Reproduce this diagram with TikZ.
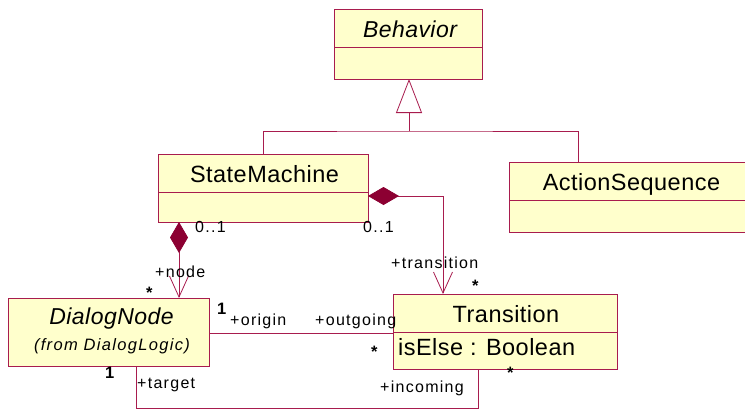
\documentclass[tikz,border=0pt]{standalone}
\usepackage{fontspec}
\setmainfont{Liberation Sans}
\newfontfamily\lblfont[LetterSpace=8]{Liberation Sans}
\newfontfamily\namefont[LetterSpace=2]{Liberation Sans}
\usetikzlibrary{arrows.meta}
\definecolor{umlline}{RGB}{168,28,78}
\definecolor{umlfill}{RGB}{255,255,204}
\definecolor{umldia}{RGB}{140,0,50}

\begin{document}
\begin{tikzpicture}[x=1pt,y=-1pt,
  classbox/.style={draw=umlline, fill=umlfill, line width=0.9pt, inner sep=0pt,
    outer sep=0pt, anchor=north west},
  divider/.style={draw=umlline, line width=0.9pt},
  conn/.style={draw=umlline, line width=0.8pt},
  clsname/.style={font={\namefont\fontsize{23.5}{26}\selectfont}, anchor=base, inner sep=0pt},
  clsitalic/.style={font={\namefont\itshape\fontsize{23}{26}\selectfont}, anchor=base, inner sep=0pt},
  clsattr/.style={font={\namefont\fontsize{23.5}{26}\selectfont}, anchor=base west, inner sep=0pt},
  endlbl/.style={font={\lblfont\fontsize{16}{18}\selectfont}, anchor=base west, inner sep=0pt},
  mult/.style={font={\lblfont\bfseries\fontsize{16.5}{18}\selectfont}, anchor=base west, inner sep=0pt},
  composite/.style={conn, {Diamond[length=31pt,width=18pt,fill=umldia,color=umldia]}-{Straight Barb[length=21pt,width=19pt]}},
  inherit/.style={conn, -{Triangle[open,length=34pt,width=26pt,fill=white]}}
]
\useasboundingbox (0,0) rectangle (745,410);
\fill[white] (0,0) rectangle (745,410);

% class boxes
\node[classbox, minimum width=148pt, minimum height=70pt] (beh) at (334,9) {};
\draw[divider] (beh.west |- 0,47) -- (beh.east |- 0,47);
\node[clsitalic] (behname) at (410,37) {Behavior};

\node[classbox, minimum width=210pt, minimum height=68pt] (sm) at (158,154) {};
\draw[divider] (sm.west |- 0,192) -- (sm.east |- 0,192);
\node[clsname] (smname) at (264.5,182) {StateMachine};

\node[classbox, minimum width=246pt, minimum height=70pt] (as) at (509,162) {};
\draw[divider] (as.west |- 0,200) -- (as.east |- 0,200);
\node[clsname] (asname) at (631.5,190) {ActionSequence};

\node[classbox, minimum width=201pt, minimum height=68pt] (dn) at (8,298) {};
\node[clsitalic] (dnname) at (111.5,324) {DialogNode};
\node[clsname, font={\lblfont\itshape\fontsize{16.5}{18}\selectfont}] (dnpkg) at (112,350.5) {(from DialogLogic)};

\node[classbox, minimum width=224pt, minimum height=75pt] (tr) at (393,294) {};
\draw[divider] (tr.west |- 0,332) -- (tr.east |- 0,332);
\node[clsname] (trname) at (506,322) {Transition};
\node[clsattr] (trattr) at (398,355) {isElse : Boolean};

% generalisation tree
\coordinate (join) at (409,131);
\draw[conn] (sm.north) |- (join) -| (as.north -| 578,0);
\draw[inherit] (join) -- (beh.south -| 409,0);

% compositions owned by the state machine
\draw[composite] (sm.south -| 179,0) -- (dn.north -| 179,0);
\draw[composite] (sm.east |- 0,196) -| (tr.north -| 443,0);

% origin / outgoing association
\draw[conn] (dn.east |- 0,333) -- (tr.west |- 0,333);

% target / incoming association
\draw[conn] (dn.south -| 136,0) -- ++(0,42) -| (tr.south -| 478,0);

% association end labels
\node[endlbl] (m1) at (195,232) {0..1};
\node[endlbl] (m2) at (363,232) {0..1};
\node[endlbl] (rnode) at (155,277) {+node};
\node[mult] (m3) at (146,298) {*};
\node[endlbl] (rtrans) at (391,268) {+transition};
\node[mult] (m4) at (472,291) {*};
\node[mult] (m5) at (217,314.5) {1};
\node[endlbl] (rorig) at (230,325) {+origin};
\node[endlbl] (rout) at (315,325) {+outgoing};
\node[mult] (m6) at (371,357.5) {*};
\node[mult] (m7) at (105,378.5) {1};
\node[endlbl] (rtarget) at (137,388) {+target};
\node[endlbl] (rinc) at (380,392) {+incoming};
\node[mult] (m8) at (507,378.5) {*};
\end{tikzpicture}
\end{document}
